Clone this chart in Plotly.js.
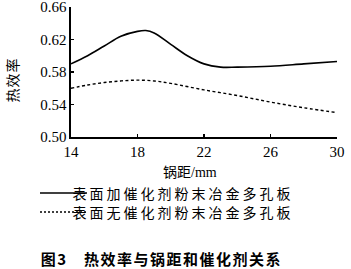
<!DOCTYPE html>
<html>
<head>
<meta charset="utf-8">
<script src="https://cdn.plot.ly/plotly-3.0.1.min.js"></script>
<style>
html,body{margin:0;padding:0;background:#fff;}
#chart{width:351px;height:269px;}
</style>
</head>
<body>
<div id="chart"></div>
<script>
// Data
const pitch = [14, 15, 16, 17, 18, 18.5, 19, 20, 21, 22, 23, 24, 26, 28, 30];
const withCatalyst = [0.590, 0.600, 0.612, 0.624, 0.630, 0.631, 0.628, 0.614, 0.600, 0.590, 0.586, 0.586, 0.587, 0.590, 0.593];
const pitch2 = [14, 15, 16, 17, 18, 19, 20, 22, 24, 26, 28, 30];
const withoutCatalyst = [0.560, 0.564, 0.567, 0.569, 0.570, 0.569, 0.566, 0.558, 0.551, 0.543, 0.536, 0.530];
const xTicks = [14, 18, 22, 26, 30];
const yTicks = [0.50, 0.54, 0.58, 0.62, 0.66];
const yTickLabels = ['0.50', '0.54', '0.58', '0.62', '0.66'];
const seriesNames = ['表面加催化剂粉末冶金多孔板', '表面无催化剂粉末冶金多孔板'];
const xTitle = '锅距/mm';
const yTitle = '热效率';
const caption = '图3　热效率与锅距和催化剂关系';

const serif = '"Liberation Serif", "Noto Sans CJK SC", serif';
const cjk = '"Noto Sans CJK SC", sans-serif';

const traces = [
  {x: pitch, y: withCatalyst, name: seriesNames[0], mode: 'lines',
   line: {color: '#000', width: 1.6, shape: 'spline', smoothing: 1}},
  {x: pitch2, y: withoutCatalyst, name: seriesNames[1], mode: 'lines',
   line: {color: '#000', width: 1.4, dash: '3px,2.5px', shape: 'spline', smoothing: 1}}
];

const PW = 266, PH = 130, L = 71, T = 7;
const px = v => (v - L) / PW;
const py = v => (T + PH - v) / PH;

const layout = {
  width: 351, height: 269,
  margin: {l: L, r: 351 - L - PW, t: T, b: 269 - T - PH},
  paper_bgcolor: '#fff', plot_bgcolor: '#fff',
  showlegend: false,
  font: {family: serif, color: '#000'},
  xaxis: {
    range: [14, 30], tickvals: xTicks, ticktext: xTicks.map(String),
    ticks: 'inside', ticklen: 3, tickwidth: 1.2, tickcolor: '#000',
    showline: true, linecolor: '#000', linewidth: 1.6,
    showgrid: false, zeroline: false,
    tickfont: {family: serif, size: 15, color: '#000'}
  },
  yaxis: {
    range: [0.50, 0.66], tickvals: yTicks, ticktext: yTickLabels,
    ticks: 'inside', ticklen: 3, tickwidth: 1.2, tickcolor: '#000',
    showline: true, linecolor: '#000', linewidth: 1.6,
    showgrid: false, zeroline: false, ticklabeloverflow: 'allow',
    tickfont: {family: serif, size: 15, color: '#000'}
  },
  shapes: [
    {type: 'line', xref: 'paper', yref: 'paper', x0: px(40), x1: px(87), y0: py(193), y1: py(193),
     line: {color: '#000', width: 1.3}},
    {type: 'line', xref: 'paper', yref: 'paper', x0: px(40), x1: px(87), y0: py(212), y1: py(212),
     line: {color: '#000', width: 1.3, dash: '2px,2px'}}
  ],
  annotations: [
    {text: yTitle, xref: 'paper', yref: 'paper', x: px(12), y: py(80), textangle: -90,
     xanchor: 'center', yanchor: 'middle', showarrow: false,
     font: {family: cjk, size: 14, color: '#000'}},
    {text: xTitle, xref: 'paper', yref: 'paper', x: px(190), y: py(172),
     xanchor: 'center', yanchor: 'middle', showarrow: false,
     font: {family: serif, size: 14, color: '#000'}},
    {text: seriesNames[0], xref: 'paper', yref: 'paper', x: px(90), y: py(193),
     xanchor: 'left', yanchor: 'middle', showarrow: false,
     font: {family: cjk, size: 14, color: '#000'}},
    {text: seriesNames[1], xref: 'paper', yref: 'paper', x: px(90), y: py(212),
     xanchor: 'left', yanchor: 'middle', showarrow: false,
     font: {family: cjk, size: 14, color: '#000'}},
    {text: '<b>' + caption + '</b>', xref: 'paper', yref: 'paper', x: px(50), y: py(258),
     xanchor: 'left', yanchor: 'middle', showarrow: false,
     font: {family: cjk, size: 15, color: '#000'}}
  ]
};

Plotly.newPlot('chart', traces, layout, {displayModeBar: false, staticPlot: true}).then(gd => {
  gd.querySelectorAll('.annotation-text').forEach(t => {
    const s = t.textContent;
    if (s === seriesNames[0] || s === seriesNames[1]) t.style.letterSpacing = '3px';
    else if (s.indexOf('热效率与') >= 0) t.style.letterSpacing = '1.5px';
    else if (s === yTitle) t.style.letterSpacing = '1px';
  });
});
</script>
</body>
</html>
